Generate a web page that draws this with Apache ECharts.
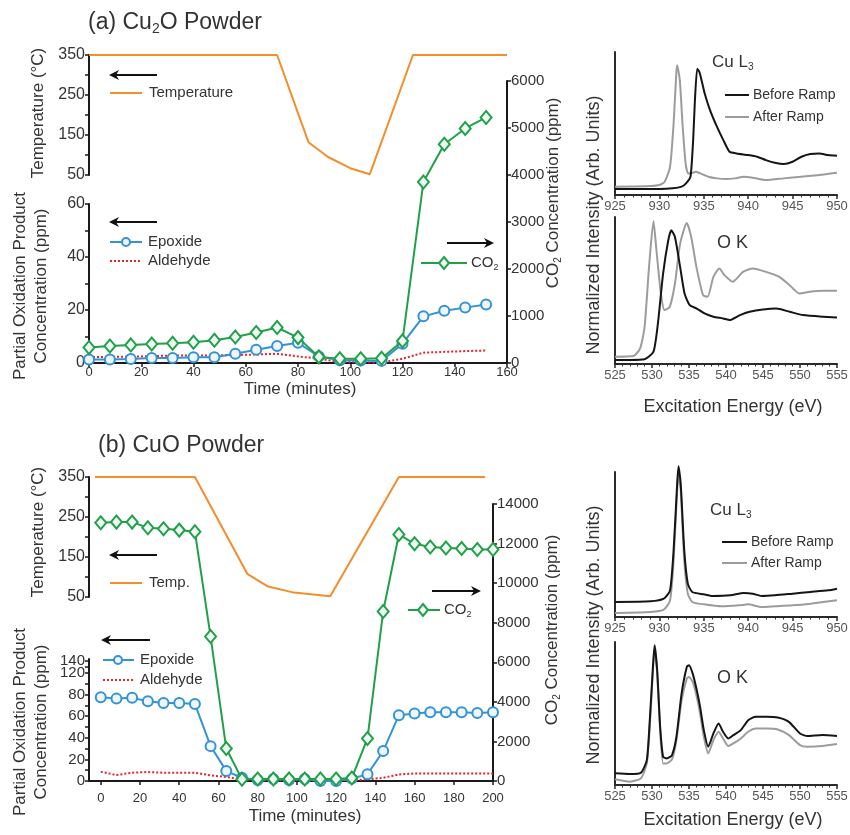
<!DOCTYPE html>
<html><head><meta charset="utf-8">
<script src="https://cdn.jsdelivr.net/npm/echarts@6/dist/echarts.min.js"></script>
<style>html,body{margin:0;padding:0;background:#fff}#c{width:850px;height:835px}</style>
</head><body><div id="c"></div>
<script>
// ================= DATA =================
// (a) Cu2O powder
const timeA = [0,8,16,24,32,40,48,56,64,72,80,88,96,104,112,120,128,136,144,152];
const epoxA = [1.3,1.3,1.5,1.9,1.9,2.2,2.2,3.5,5.0,6.4,7.6,2.5,1.0,0.9,0.8,7.3,17.6,19.7,20.9,22.1];
const aldA  = [2.2,2.3,2.4,2.6,2.8,2.8,2.9,3.0,3.2,3.5,2.5,1.6,0.4,0.3,0.2,1.6,3.9,4.2,4.5,4.7];
const co2A  = [330,360,385,405,420,440,485,555,650,755,540,130,90,90,100,470,3850,4655,4990,5225];
const tempA_t = [0,72,84,91.5,100,107.5,124,160];
const tempA_v = [350,350,132,95,67,52,350,350];
// (b) CuO powder
const timeB = [0,8,16,24,32,40,48,56,64,72,80,88,96,104,112,120,128,136,144,152,160,168,176,184,192,200];
const epoxB = [77.5,76.3,77,73.8,72.3,72.3,71.4,32.3,9.2,3,0.9,1.8,0.9,1.8,0,0,2.2,6.2,27.7,61,62.5,63.7,63.7,63.7,63,63.7];
const aldB  = [8.6,5.5,7.7,8.3,7.7,7.7,7.7,5.2,3.7,1.5,0.6,0.6,0.6,0.6,0.6,0.6,0.6,1.5,3,6,7,7,7,7,7,7];
const co2B  = [13050,13085,13085,12800,12750,12680,12600,7300,1640,90,100,100,100,100,100,100,150,2150,8570,12460,11990,11830,11780,11750,11700,11700];
const tempB_t = [-3,48,74.7,84.9,98.5,117,152,196];
const tempB_v = [350,350,108,77,61,52,350,350];
// tick labels
const tempTickLabels = [50,150,250,350];
const leftTicksA = [0,20,40,60];
const timeTicksA = [0,20,40,60,80,100,120,140,160];
const timeTicksB = [0,20,40,60,80,100,120,140,160,180,200];
const leftTickTextB = ['0','20','40','60','80','140'];
const leftTickAtB = [0,20,40,60,80,111.5];
const leftTickText2B = ['120'];
const leftTickAt2B = [100.5];
const leftMinorAtB = [0,10,20,30,40,50,60,70,80,90,100.5,106,111.5];
// spectra (a) Cu L3
const cuA_bE = [925,930,931.5,932.5,933,933.5,933.8,934,934.26,934.5,934.75,935.1,935.7,936.4,937.2,937.9,938.7,940,941,942,943,944,945,946,947,948,949,950];
const cuA_bI = [18,18,20,25,35,55,165,285,380,370,345,305,255,210,165,130,125,120,115,105,97,93,100,115,123,125,120,118];
const cuA_aE = [925,929,930,930.6,931.2,931.6,931.9,932.0,932.3,932.6,932.95,933.25,933.8,934.1,934.6,935.5,936.5,937.5,938.5,939.5,940.5,942,944,946,948,950];
const cuA_aI = [25,27,30,40,85,215,365,390,345,215,95,65,67,70,65,55,50,48,50,55,52,45,50,55,60,67];
// spectra (a) O K
const okA_bE = [525,527,529,530.2,530.8,531.5,532.2,532.6,533.1,533.8,534.4,535.1,536,537.1,538.3,539.6,540.5,541.9,543.2,545,546.8,548.6,550.4,553.1,555];
const okA_bI = [12,12,14,37,122,272,372,402,382,292,212,177,167,152,142,137,132,147,157,164,167,157,147,142,140];
const okA_aE = [525,527.5,528.4,529,529.6,530.2,530.6,531.2,531.7,532.4,533.1,533.8,534.7,535.3,536,536.9,537.5,538.3,539.1,539.8,540.9,542.3,543.6,545.4,547.2,548.6,549.9,551.3,553.1,555];
const okA_aI = [22,24,47,112,292,430,342,212,162,172,242,362,424,382,292,207,202,262,287,267,247,277,287,277,262,237,212,217,220,220];
// spectra (b) Cu L3
const cuB_bE = [925,929,930.5,931.2,931.6,932.0,932.15,932.4,932.8,933.2,933.7,935,936,938,939.5,940.5,941.5,943,945,947,949,950];
const cuB_bI = [45,47,55,80,200,400,452,400,200,100,75,68,63,65,72,70,63,65,70,75,80,85];
const cuB_aE = [925,929,930.5,931.2,931.6,932.0,932.15,932.4,932.8,933.2,933.7,935,937,939,940,941.5,943,945,947,950];
const cuB_aI = [12,15,22,50,170,380,425,380,170,70,45,38,32,35,38,30,32,35,40,50];
// spectra (b) O K
const okB_E  = [525,527,528.5,529.3,529.7,530.1,530.35,530.7,531.1,531.5,532,532.7,533.3,534,534.7,535,535.5,536,536.5,537,537.6,538.3,539,539.6,540.3,541,542,543,544,545.5,547,548.5,550,551,553,555];
const okB_bI = [35,33,37,75,195,345,420,345,175,85,80,90,145,275,355,360,335,290,235,165,115,155,185,160,140,150,165,195,205,205,203,190,155,147,150,147];
const okB_aI = [17,10,20,65,175,335,410,335,165,65,65,77,135,255,320,325,310,270,215,145,95,135,160,140,117,125,140,160,170,170,167,150,120,115,117,123];

// ================= CHART =================
const FONT = '"Liberation Sans", Arial, Helvetica, sans-serif';
const C = {orange:'#F28E2B', blue:'#3493D4', green:'#21A04A', red:'#E8212B', black:'#151515', gray:'#9C9C9C', axis:'#1a1a1a', text:'#333'};
const pair = (xs, ys) => xs.map((x,i)=>[x, ys[i]]);
const near = (arr, v) => arr.findIndex(a => Math.abs(a - v) < 1e-6);
const plain = v => String(v);

const chart = echarts.init(document.getElementById('c'), null, {renderer:'canvas', width:850, height:835});

const G = (left, top, width, height) => ({left, top, width, height, outerBoundsMode:'none', containLabel:false});
const grids = [
  G(89,55,418,120),   // 0 a temp
  G(89,204,418,159),  // 1 a partial ox
  G(89,81,418,282),   // 2 a co2
  G(89,477,404,120),  // 3 b temp
  G(89,659,404,122),  // 4 b partial ox
  G(89,504,404,277),  // 5 b co2
  G(615,52,222,143),  // 6 a Cu
  G(615,217,222,147), // 7 a O
  G(615,472,222,145), // 8 b Cu
  G(615,642,222,143)  // 9 b O
];

const AL = {show:true, onZero:false, lineStyle:{color:C.axis, width:2}};
const AT = {show:true, length:4, lineStyle:{color:C.axis, width:1.5}};
const noSplit = {show:false};
const hiddenX = (gi, min, max) => ({gridIndex:gi, type:'value', min, max, show:false, splitLine:noSplit});
const LBL = (size, extra) => Object.assign({fontSize:size, color:C.text, fontFamily:FONT, hideOverlap:false, showMinLabel:true, showMaxLabel:true}, extra);

const xAxes = [
  hiddenX(0,0,160),
  {gridIndex:1, type:'value', min:0, max:160, interval:20, axisLine:AL, axisTick:AT, splitLine:noSplit,
   axisLabel:LBL(13, {margin:3, formatter:v => timeTicksA.includes(v) ? plain(v) : ''})},
  hiddenX(2,0,160),
  hiddenX(3,-6,200),
  {gridIndex:4, type:'value', min:-6, max:200, axisLine:AL, splitLine:noSplit,
   axisTick:Object.assign({}, AT, {customValues:timeTicksB}),
   axisLabel:LBL(13, {customValues:timeTicksB, margin:11, formatter:plain})},
  hiddenX(5,-6,200)
];
const specX = (gi, min, max) => ({gridIndex:gi, type:'value', min, max, interval:5, splitLine:noSplit,
  axisLine:{show:true, onZero:false, lineStyle:{color:'#2a2a2a', width:2}},
  axisTick:{show:true, length:4, lineStyle:{color:'#2a2a2a', width:1.5}},
  minorTick:{show:true, splitNumber:5, length:2.5, lineStyle:{color:'#2a2a2a', width:1}},
  axisLabel:{fontSize:13, color:'#555', fontFamily:FONT, margin:5, formatter:plain, hideOverlap:false}});
xAxes.push(specX(6,925,950), specX(7,525,555), specX(8,925,950), specX(9,525,555));

const yAxes = [
  {gridIndex:0, type:'value', min:50, max:350, interval:50, axisLine:AL, axisTick:AT, splitLine:noSplit,
   axisLabel:LBL(16, {margin:4, formatter:v => tempTickLabels.includes(v) ? plain(v) : ''})},
  {gridIndex:1, type:'value', min:0, max:60, interval:10, axisLine:AL, axisTick:AT, splitLine:noSplit,
   axisLabel:LBL(16, {margin:4, formatter:v => leftTicksA.includes(v) ? plain(v) : ''})},
  {gridIndex:2, type:'value', position:'right', min:0, max:6000, interval:1000, axisLine:AL, axisTick:AT, splitLine:noSplit,
   axisLabel:LBL(15, {margin:4, formatter:plain})},
  {gridIndex:3, type:'value', min:50, max:350, interval:50, axisLine:AL, axisTick:AT, splitLine:noSplit,
   axisLabel:LBL(16, {margin:4, formatter:v => tempTickLabels.includes(v) ? plain(v) : ''})},
  {gridIndex:4, type:'value', min:0, max:113, axisLine:AL, splitLine:noSplit,
   axisTick:Object.assign({}, AT, {customValues:leftMinorAtB}),
   axisLabel:LBL(15, {customValues:leftTickAtB, margin:4,
     formatter:v => { const i = near(leftTickAtB, v); return i >= 0 ? leftTickTextB[i] : ''; }})},
  {gridIndex:5, type:'value', position:'right', min:0, max:14000, interval:2000, axisLine:AL, axisTick:AT, splitLine:noSplit,
   axisLabel:LBL(15, {margin:4, formatter:plain})}
];
const specY = (gi, max) => ({gridIndex:gi, type:'value', min:0, max, splitLine:noSplit,
  axisLine:{show:true, onZero:false, lineStyle:{color:'#2a2a2a', width:2}}, axisTick:{show:false}, axisLabel:{show:false}});
yAxes.push(specY(6,430), specY(7,442), specY(8,435), specY(9,430));
// companion left axis on panel (b) carrying the squeezed "120" label
yAxes.push({gridIndex:4, type:'value', position:'left', min:0, max:113, splitLine:noSplit,
  axisLine:{show:false}, axisTick:{show:false},
  axisLabel:LBL(15, {customValues:leftTickAt2B, margin:4,
    formatter:v => { const i = near(leftTickAt2B, v); return i >= 0 ? leftTickText2B[i] : ''; }})});

const tempS = (name, xi, d) => ({type:'line', name, xAxisIndex:xi, yAxisIndex:xi, data:d, symbol:'none',
  lineStyle:{color:C.orange, width:2}, itemStyle:{color:C.orange}, clip:false, z:2});
const epoxS = (xi, d) => ({type:'line', name:'Epoxide', xAxisIndex:xi, yAxisIndex:xi, data:d, symbol:'circle', symbolSize:10,
  lineStyle:{color:C.blue, width:2}, itemStyle:{color:'#eef6fc', borderColor:C.blue, borderWidth:2}, clip:false, z:4});
const aldS = (xi, d) => ({type:'line', name:'Aldehyde', xAxisIndex:xi, yAxisIndex:xi, data:d, symbol:'none',
  lineStyle:{color:C.red, width:2, type:[2,2]}, itemStyle:{color:C.red}, clip:false, z:3});
const co2S = (xi, d) => ({type:'line', name:'CO2', xAxisIndex:xi, yAxisIndex:xi, data:d, symbol:'diamond', symbolSize:[11,13],
  lineStyle:{color:C.green, width:2}, itemStyle:{color:'#eefaf1', borderColor:C.green, borderWidth:2}, clip:false, z:5});
const specS = (name, xi, d, color) => ({type:'line', name, xAxisIndex:xi, yAxisIndex:xi, data:d, symbol:'none',
  lineStyle:{color, width:2}, itemStyle:{color}, clip:false, smooth:0.2});

const series = [
  tempS('Temperature', 0, pair(tempA_t, tempA_v)),
  aldS(1, pair(timeA, aldA)),
  epoxS(1, pair(timeA, epoxA)),
  co2S(2, pair(timeA, co2A)),
  tempS('Temp.', 3, pair(tempB_t, tempB_v)),
  aldS(4, pair(timeB, aldB)),
  epoxS(4, pair(timeB, epoxB)),
  co2S(5, pair(timeB, co2B)),
  specS('After Ramp', 6, pair(cuA_aE, cuA_aI), C.gray),
  specS('Before Ramp', 6, pair(cuA_bE, cuA_bI), C.black),
  specS('After Ramp', 7, pair(okA_aE, okA_aI), C.gray),
  specS('Before Ramp', 7, pair(okA_bE, okA_bI), C.black),
  specS('After Ramp', 8, pair(cuB_aE, cuB_aI), C.gray),
  specS('Before Ramp', 8, pair(cuB_bE, cuB_bI), C.black),
  specS('After Ramp', 9, pair(okB_E, okB_aI), C.gray),
  specS('Before Ramp', 9, pair(okB_E, okB_bI), C.black)
];

// ---------- annotations (text, legends, arrows) ----------
const subRich = size => ({
  n:{fontSize:size, fontFamily:FONT, lineHeight:size+4},
  s:{fontSize:Math.round(size*0.6), fontFamily:FONT, lineHeight:Math.round(size*0.6), verticalAlign:'bottom'}
});
function txt(x, y, text, size, align, extra){
  const st = {text, fontSize:size, fontFamily:FONT, fill:C.text, align:align||'left', verticalAlign:'middle'};
  if (text.indexOf('{') >= 0) st.rich = subRich(size);
  return Object.assign({type:'text', x, y, silent:true, style:st}, extra||{});
}
function vtxt(x, y, text, size, lh){
  const st = {text, fontSize:size, fontFamily:FONT, fill:C.text, align:'center', verticalAlign:'middle'};
  if (lh) st.lineHeight = lh;
  if (text.indexOf('{') >= 0) st.rich = subRich(size);
  return {type:'text', x, y, rotation:Math.PI/2, silent:true, style:st};
}
const legLine = (x1, x2, y, color, dash) => ({type:'line', silent:true, shape:{x1, y1:y, x2, y2:y},
  style:{stroke:color, lineWidth:2, lineDash:dash||null}});
const legCircle = (cx, cy, color) => ({type:'circle', silent:true, shape:{cx, cy, r:4}, style:{fill:'#eef6fc', stroke:color, lineWidth:2}});
const legDiamond = (cx, cy, color) => ({type:'polygon', silent:true,
  shape:{points:[[cx,cy-6],[cx+5,cy],[cx,cy+6],[cx-5,cy]]}, style:{fill:'#eefaf1', stroke:color, lineWidth:2}});
function arrow(x1, y, x2){
  const d = x2 > x1 ? 1 : -1;
  return [
    {type:'line', silent:true, shape:{x1, y1:y, x2:x2 - d*4, y2:y}, style:{stroke:'#111', lineWidth:2}},
    {type:'polygon', silent:true, shape:{points:[[x2+d,y],[x2-d*9,y-5],[x2-d*6,y],[x2-d*9,y+5]]}, style:{fill:'#111'}}
  ];
}

const els = [
  // titles
  txt(88, 23, '{n|(a) Cu}{s|2}{n|O Powder}', 23),
  txt(98, 446, '(b) CuO Powder', 23),
  // axis names (a)
  vtxt(38, 113, 'Temperature (°C)', 17),
  vtxt(31, 286, 'Partial Oxidation Product\nConcentration (ppm)', 17, 21),
  vtxt(553, 193, '{n|CO}{s|2}{n| Concentration (ppm)}', 17),
  txt(300, 389, 'Time (minutes)', 17, 'center'),
  // axis names (b)
  vtxt(38, 532, 'Temperature (°C)', 17),
  vtxt(31, 722, 'Partial Oxidation Product\nConcentration (ppm)', 17, 21),
  vtxt(552, 630, '{n|CO}{s|2}{n| Concentration (ppm)}', 17),
  txt(305, 816, 'Time (minutes)', 17, 'center'),
  // spectra names
  vtxt(594, 225, 'Normalized Intensity (Arb. Units)', 18),
  vtxt(594, 635, 'Normalized Intensity (Arb. Units)', 18),
  txt(733, 407, 'Excitation Energy (eV)', 18, 'center'),
  txt(733, 820, 'Excitation Energy (eV)', 18, 'center'),
  txt(712, 62, '{n|Cu L}{s|3}', 17),
  txt(717, 243, 'O K', 18),
  txt(710, 510, '{n|Cu L}{s|3}', 17),
  txt(717, 678, 'O K', 18),
  // legends (a)
  legLine(110, 142, 93, C.orange), txt(149, 93, 'Temperature', 15),
  legLine(110, 142, 242, C.blue), legCircle(126, 242, C.blue), txt(148, 242, 'Epoxide', 15),
  legLine(110, 142, 261, C.red, [2,2]), txt(148, 261, 'Aldehyde', 15),
  legLine(421, 467, 263, C.green), legDiamond(444, 263, C.green), txt(471, 263, '{n|CO}{s|2}', 15),
  legLine(725, 749, 95, C.black), txt(753, 95, 'Before Ramp', 14),
  legLine(725, 749, 117, C.gray), txt(753, 117, 'After Ramp', 14),
  // legends (b)
  legLine(110, 142, 583, C.orange), txt(149, 583, 'Temp.', 15),
  legLine(103, 134, 660, C.blue), legCircle(118, 660, C.blue), txt(140, 660, 'Epoxide', 15),
  legLine(103, 134, 680, C.red, [2,2]), txt(140, 680, 'Aldehyde', 15),
  legLine(408, 440, 610, C.green), legDiamond(423, 610, C.green), txt(444, 610, '{n|CO}{s|2}', 15),
  legLine(722, 747, 542, C.black), txt(751, 542, 'Before Ramp', 14),
  legLine(722, 747, 563, C.gray), txt(751, 563, 'After Ramp', 14)
].concat(
  arrow(157, 75, 110), arrow(157, 222, 110), arrow(447, 243, 493),
  arrow(157, 555, 110), arrow(150, 640, 102), arrow(432, 591, 480)
);

chart.setOption({
  animation:false,
  backgroundColor:'#fff',
  textStyle:{fontFamily:FONT},
  grid:grids,
  xAxis:xAxes,
  yAxis:yAxes,
  series:series,
  graphic:{elements:els}
});
</script>
</body></html>
